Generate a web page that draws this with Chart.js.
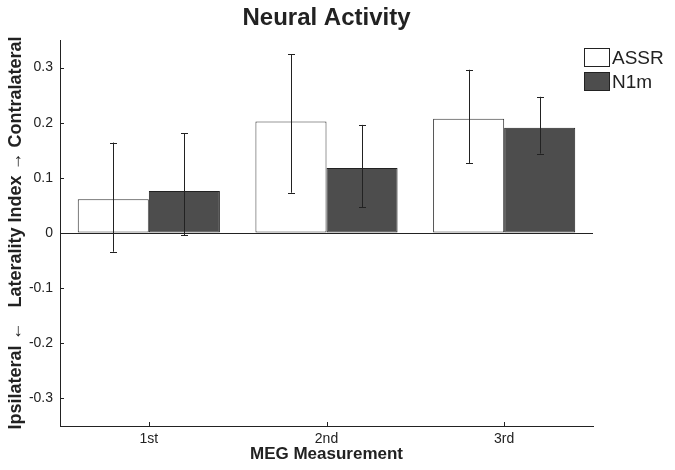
<!DOCTYPE html>
<html>
<head>
<meta charset="utf-8">
<script src="https://cdn.jsdelivr.net/npm/chart.js@4"></script>
<style>
html,body{margin:0;padding:0;background:#fff;}
#wrap{width:675px;height:470px;position:relative;}
</style>
</head>
<body>
<div id="wrap"><canvas id="c" width="675" height="470"></canvas></div>
<script>
const categories = ['1st', '2nd', '3rd'];
const seriesNames = ['ASSR', 'N1m'];
const assrValues = [0.061, 0.202, 0.207];
const assrLower  = [-0.034, 0.073, 0.127];
const assrUpper  = [0.164, 0.324, 0.296];
const n1mValues  = [0.076, 0.118, 0.191];
const n1mLower   = [-0.004, 0.047, 0.144];
const n1mUpper   = [0.181, 0.196, 0.247];
const yTickValues = [-0.3, -0.2, -0.1, 0, 0.1, 0.2, 0.3];

const FONT = "'Liberation Sans', Arial, Helvetica, sans-serif";
const INK = '#222222';

const errorBars = {
  id: 'errorBars',
  afterDatasetsDraw(chart) {
    const ctx = chart.ctx, y = chart.scales.y;
    ctx.save();
    ctx.strokeStyle = INK;
    ctx.lineWidth = 1;
    chart.data.datasets.forEach((ds, di) => {
      const meta = chart.getDatasetMeta(di);
      meta.data.forEach((bar, i) => {
        const x = Math.round(bar.x) + 0.5;
        const y1 = y.getPixelForValue(ds.errLower[i]);
        const y2 = y.getPixelForValue(ds.errUpper[i]);
        ctx.beginPath();
        ctx.moveTo(x, y1); ctx.lineTo(x, y2);
        ctx.moveTo(x - 3.5, Math.round(y1) + 0.5); ctx.lineTo(x + 3.5, Math.round(y1) + 0.5);
        ctx.moveTo(x - 3.5, Math.round(y2) + 0.5); ctx.lineTo(x + 3.5, Math.round(y2) + 0.5);
        ctx.stroke();
      });
    });
    ctx.restore();
  }
};

const innerTicks = {
  id: 'innerTicks',
  afterDraw(chart) {
    const ctx = chart.ctx, a = chart.chartArea;
    const xs = chart.scales.x, ys = chart.scales.y;
    ctx.save();
    ctx.strokeStyle = INK;
    ctx.lineWidth = 1;
    ctx.beginPath();
    ys.ticks.forEach(t => {
      const py = Math.round(ys.getPixelForValue(t.value)) + 0.5;
      ctx.moveTo(a.left, py); ctx.lineTo(a.left + 4, py);
    });
    xs.ticks.forEach((t, i) => {
      const px = Math.round(xs.getPixelForTick(i)) + 0.5;
      ctx.moveTo(px, a.bottom); ctx.lineTo(px, a.bottom - 4);
    });
    ctx.stroke();
    ctx.restore();
  }
};

const boxLegend = {
  id: 'boxLegend',
  afterDraw(chart) {
    const ctx = chart.ctx, a = chart.chartArea;
    ctx.save();
    const bx = a.right - 9, bw = 26, bh = 19;
    chart.data.datasets.forEach((ds, i) => {
      const by = 48 + i * 24;
      ctx.fillStyle = ds.backgroundColor;
      ctx.fillRect(bx, by, bw, bh);
      ctx.strokeStyle = INK;
      ctx.lineWidth = 1;
      ctx.strokeRect(bx + 0.5, by + 0.5, bw - 1, bh - 1);
      ctx.fillStyle = INK;
      ctx.font = '19px ' + FONT;
      ctx.textBaseline = 'middle';
      ctx.textAlign = 'left';
      ctx.fillText(ds.label, bx + bw + 2, by + bh / 2 + 1);
    });
    ctx.restore();
  }
};

new Chart(document.getElementById('c'), {
  type: 'bar',
  data: {
    labels: categories,
    datasets: [
      {
        label: seriesNames[0],
        data: assrValues,
        errLower: assrLower,
        errUpper: assrUpper,
        backgroundColor: '#ffffff',
        borderColor: '#333333',
        borderWidth: 1,
        borderSkipped: false,
        categoryPercentage: 0.8,
        barPercentage: 1.0
      },
      {
        label: seriesNames[1],
        data: n1mValues,
        errLower: n1mLower,
        errUpper: n1mUpper,
        backgroundColor: '#4d4d4d',
        borderColor: '#222222',
        borderWidth: 1,
        borderSkipped: false,
        categoryPercentage: 0.8,
        barPercentage: 1.0
      }
    ]
  },
  options: {
    responsive: false,
    animation: false,
    devicePixelRatio: 1,
    layout: { padding: { left: 0, right: 82, top: 0, bottom: 0 } },
    plugins: {
      legend: { display: false },
      tooltip: { enabled: false },
      title: {
        display: true,
        text: 'Neural Activity',
        fullSize: false,
        color: INK,
        font: { family: FONT, size: 24, weight: 'bold' },
        padding: { top: 4, bottom: 7.2 }
      }
    },
    scales: {
      x: {
        type: 'category',
        offset: true,
        grid: { display: false, drawTicks: false },
        border: { display: true, color: INK, width: 1 },
        ticks: { color: INK, font: { family: FONT, size: 14 }, padding: 5, maxRotation: 0 },
        title: {
          display: true,
          text: 'MEG Measurement',
          color: INK,
          font: { family: FONT, size: 17, weight: 'bold' },
          padding: { top: 0, bottom: 5 }
        },
        afterFit(scale) { scale.height = 44; }
      },
      y: {
        min: -0.35,
        max: 0.35,
        afterBuildTicks(scale) { scale.ticks = yTickValues.map(v => ({ value: v })); },
        grid: {
          drawTicks: false,
          color: ctx => (ctx.tick && ctx.tick.value === 0) ? INK : 'rgba(0,0,0,0)',
          lineWidth: 1
        },
        border: { display: true, color: INK, width: 1 },
        ticks: {
          color: INK,
          font: { family: FONT, size: 14 },
          padding: 7,
          callback: v => (v === 0 ? '0' : v.toFixed(1))
        },
        title: {
          display: true,
          text: 'Ipsilateral \u2190   Laterality Index \u2192 Contralateral',
          color: INK,
          font: { family: FONT, size: 18, weight: 'bold' },
          padding: { top: 5, bottom: 0 }
        },
        afterFit(scale) { scale.width = 60; }
      }
    }
  },
  plugins: [errorBars, innerTicks, boxLegend]
});
</script>
</body>
</html>
